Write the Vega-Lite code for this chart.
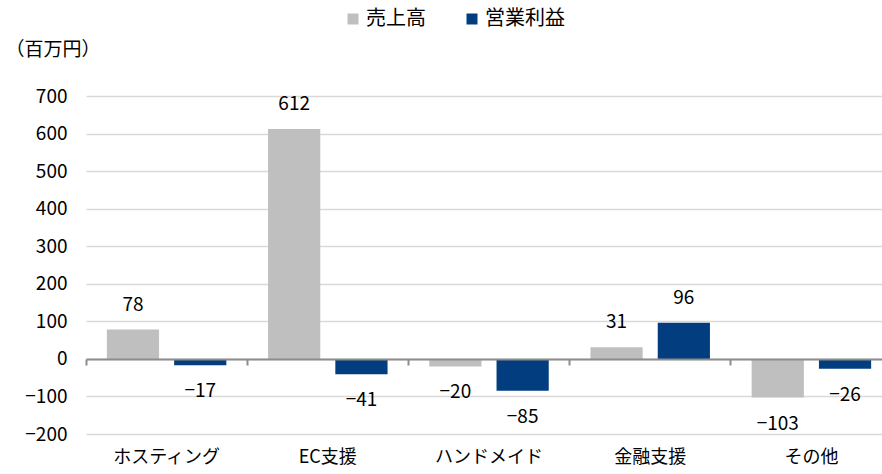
{
  "$schema": "https://vega.github.io/schema/vega-lite/v6.json",
  "width": 806,
  "height": 338,
  "autosize": {"type": "none"},
  "padding": {"left": 86, "top": 96, "right": 0, "bottom": 40},
  "background": "white",
  "config": {
    "view": {"stroke": null},
    "font": "Noto Sans CJK JP",
    "text": {"font": "Noto Sans CJK JP", "fontSize": 19, "color": "#000000"}
  },
  "data": {
    "values": [
      {"segment": "ホスティング", "metric": "売上高", "value": 78},
      {"segment": "ホスティング", "metric": "営業利益", "value": -17},
      {"segment": "EC支援", "metric": "売上高", "value": 612},
      {"segment": "EC支援", "metric": "営業利益", "value": -41},
      {"segment": "ハンドメイド", "metric": "売上高", "value": -20},
      {"segment": "ハンドメイド", "metric": "営業利益", "value": -85},
      {"segment": "金融支援", "metric": "売上高", "value": 31},
      {"segment": "金融支援", "metric": "営業利益", "value": 96},
      {"segment": "その他", "metric": "売上高", "value": -103},
      {"segment": "その他", "metric": "営業利益", "value": -26}
    ]
  },
  "encoding": {
    "x": {
      "field": "segment",
      "type": "nominal",
      "sort": null,
      "scale": {"paddingInner": 0, "paddingOuter": 0},
      "axis": {
        "title": null,
        "orient": "bottom",
        "offset": -75,
        "labelAngle": 0,
        "labelFont": "Noto Sans CJK JP",
        "labelFontSize": 18,
        "labelColor": "#000000",
        "labelPadding": 83,
        "bandPosition": 0,
        "ticks": true,
        "tickSize": 6,
        "tickWidth": 2,
        "tickColor": "#8C8C8C",
        "domain": true,
        "domainColor": "#8C8C8C",
        "domainWidth": 2,
        "grid": false,
        "zindex": 1
      }
    },
    "xOffset": {
      "field": "metric",
      "type": "nominal",
      "sort": ["売上高", "営業利益"],
      "scale": {"paddingInner": 0.224, "paddingOuter": 0.31}
    },
    "y": {
      "field": "value",
      "type": "quantitative",
      "scale": {"domain": [-200, 700], "nice": false, "zero": false},
      "axis": {
        "values": [-200, -100, 0, 100, 200, 300, 400, 500, 600, 700],
        "format": "d",
        "title": "（百万円）",
        "titleAngle": 0,
        "titleAlign": "left",
        "titleBaseline": "middle",
        "titleX": -81,
        "titleY": -47,
        "titleFont": "Noto Sans CJK JP",
        "titleFontSize": 19,
        "titleFontWeight": "normal",
        "titleColor": "#000000",
        "labelFont": "Noto Sans CJK JP",
        "labelFontSize": 19,
        "labelColor": "#000000",
        "labelPadding": 19,
        "domain": false,
        "ticks": false,
        "grid": true,
        "gridColor": "#D9D9D9",
        "gridWidth": 1.5
      }
    }
  },
  "layer": [
    {
      "mark": {"type": "bar"},
      "encoding": {
        "color": {
          "field": "metric",
          "type": "nominal",
          "sort": ["売上高", "営業利益"],
          "scale": {"domain": ["売上高", "営業利益"], "range": ["#BFBFBF", "#023E7F"]},
          "legend": {
            "title": null,
            "orient": "none",
            "direction": "horizontal",
            "legendX": 257,
            "legendY": -87,
            "symbolType": "square",
            "symbolSize": 121,
            "symbolStrokeWidth": 0,
            "labelFont": "Noto Sans CJK JP",
            "labelFontSize": 20,
            "labelColor": "#000000",
            "labelOffset": 3,
            "columnPadding": 36
          }
        }
      }
    },
    {
      "transform": [{"filter": "datum.value >= 0"}],
      "mark": {"type": "text", "baseline": "middle", "dy": -25},
      "encoding": {"text": {"field": "value", "type": "quantitative", "format": "d"}}
    },
    {
      "transform": [{"filter": "datum.value < 0"}],
      "mark": {"type": "text", "baseline": "middle", "dy": 26},
      "encoding": {"text": {"field": "value", "type": "quantitative", "format": "d"}}
    }
  ]
}
